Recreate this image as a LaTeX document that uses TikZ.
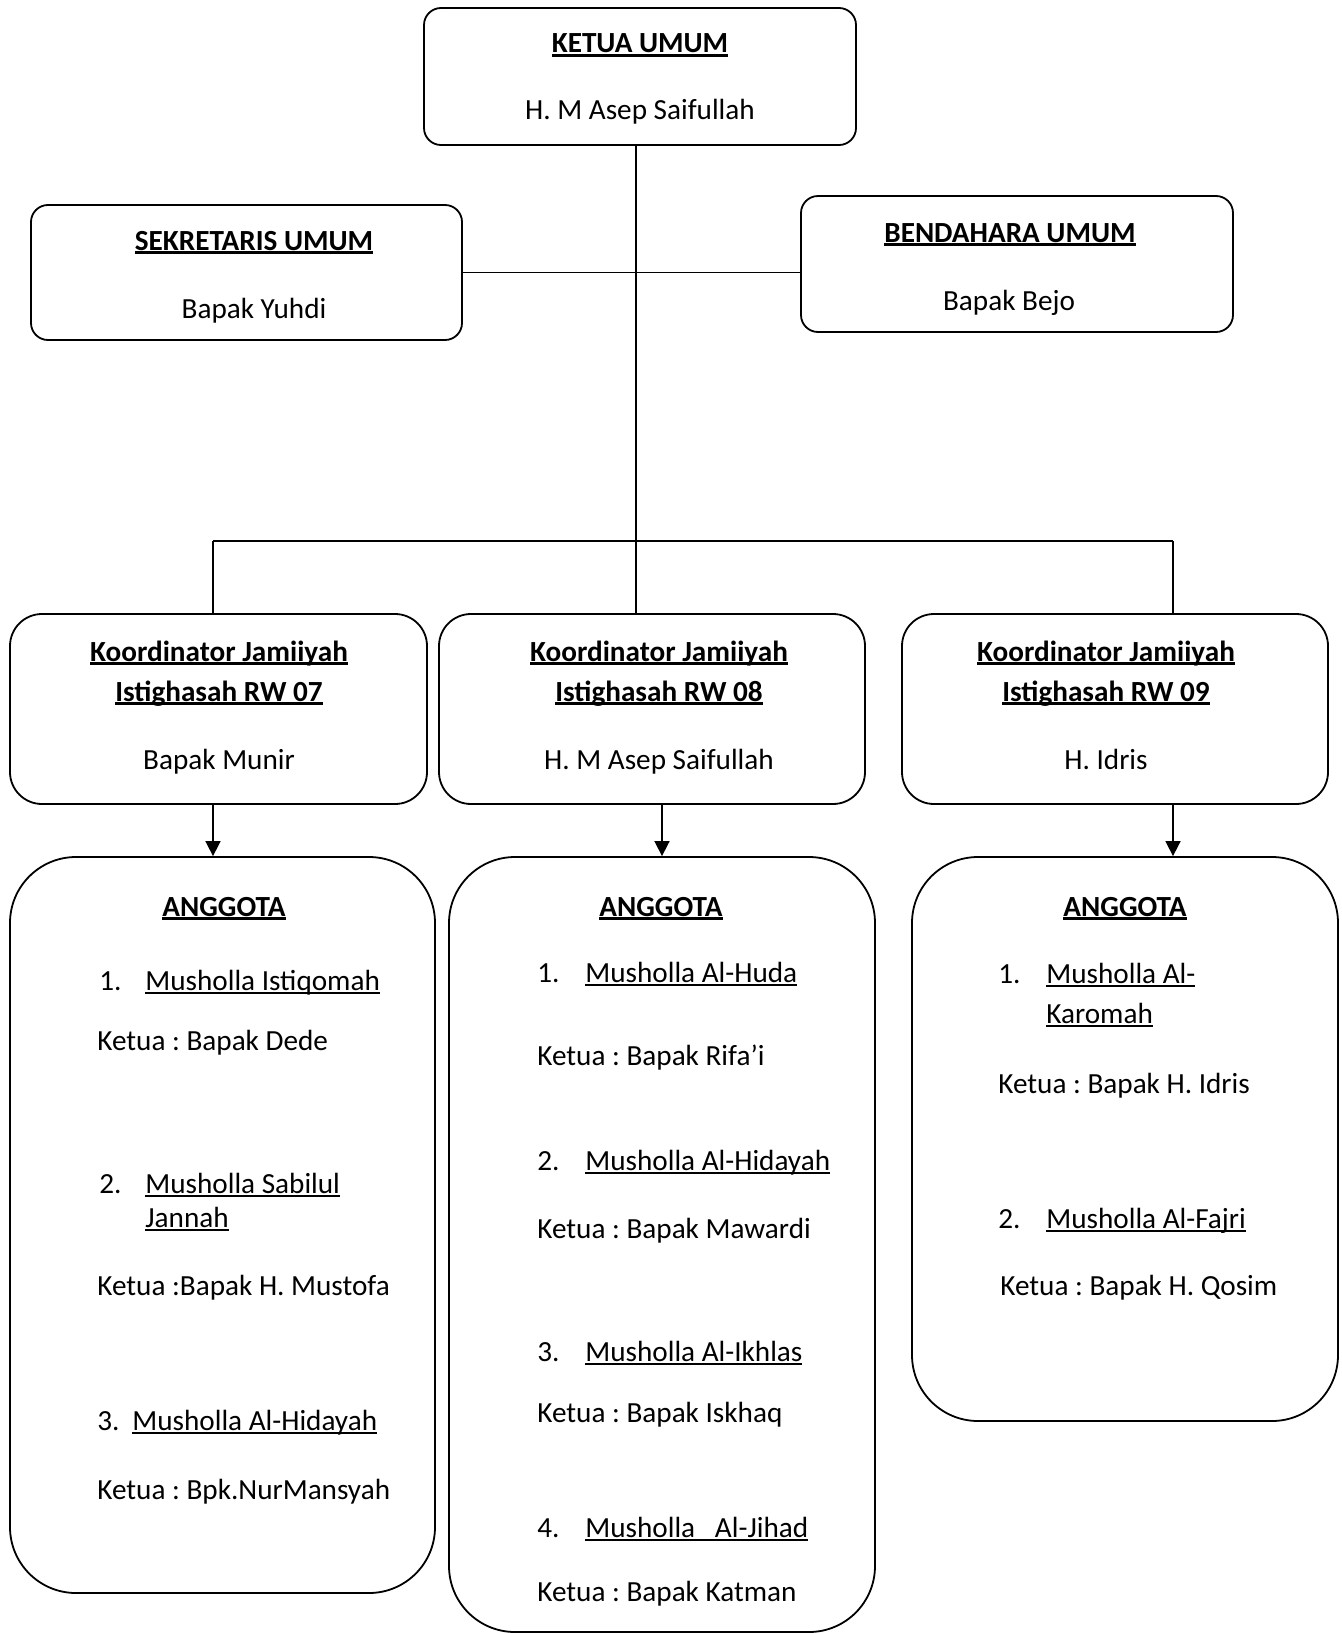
\documentclass[tikz,border=0pt]{standalone}
\usepackage{fontspec}
\setmainfont{Carlito}
\usetikzlibrary{arrows.meta}
\frenchspacing

\newsavebox\ulbox
\newcommand{\uln}[1]{\sbox\ulbox{#1}\rlap{\rule[-0.12em]{\wd\ulbox}{0.05em}}\usebox\ulbox}
\newcommand{\ulbf}[1]{\sbox\ulbox{\bfseries #1}\rlap{\rule[-0.13em]{\wd\ulbox}{0.08em}}\usebox\ulbox}

\tikzset{
  box/.style={draw, line width=0.9pt, inner sep=0pt},
  link/.style={line width=0.8pt},
  arr/.style={link, -{Triangle[length=7.5pt,width=7.5pt]}}
}

\begin{document}
\begin{tikzpicture}[x=0.5pt,y=-0.5pt,
    txt/.style={inner sep=0pt, yshift=-1pt, font=\fontsize{14.6pt}{17pt}\selectfont},
    item/.style={txt, anchor=base west},
    head/.style={txt, anchor=base}]

  \useasboundingbox (0,0) rectangle (1341,1633);

  % pengurus umum
  \node[box, rounded corners=8.5pt, minimum width=216pt, minimum height=68.5pt] (ketua) at (640,76.5) {};
  \node[box, rounded corners=8.5pt, minimum width=215.5pt, minimum height=67.5pt] (sekretaris) at (246.5,272.5) {};
  \node[box, rounded corners=8.5pt, minimum width=216pt, minimum height=68pt] (bendahara) at (1017,264) {};

  \node[head] (ketuaT) at (640,51) {\ulbf{KETUA UMUM}};
  \node[head] (ketuaN) at (640,117) {H. M Asep Saifullah};
  \node[head] (sekT) at (254,248) {\ulbf{SEKRETARIS UMUM}};
  \node[head] (sekN) at (254,316) {Bapak Yuhdi};
  \node[head] (bendT) at (1010,240) {\ulbf{BENDAHARA UMUM}};
  \node[head] (bendN) at (1009,308) {Bapak Bejo};

  % koordinator
  \node[box, rounded corners=16pt, minimum width=208.5pt, minimum height=95pt] (koord07) at (218.5,709) {};
  \node[box, rounded corners=16pt, minimum width=213pt, minimum height=95pt] (koord08) at (652,709) {};
  \node[box, rounded corners=16pt, minimum width=213pt, minimum height=95pt] (koord09) at (1115,709) {};

  \node[head] (k07a) at (219,659) {\ulbf{Koordinator Jamiiyah}};
  \node[head] (k07b) at (219,699) {\ulbf{Istighasah RW 07}};
  \node[head] (k07n) at (219,767) {Bapak Munir};
  \node[head] (k08a) at (659,659) {\ulbf{Koordinator Jamiiyah}};
  \node[head] (k08b) at (659,699) {\ulbf{Istighasah RW 08}};
  \node[head] (k08n) at (659,767) {H. M Asep Saifullah};
  \node[head] (k09a) at (1106,659) {\ulbf{Koordinator Jamiiyah}};
  \node[head] (k09b) at (1106,699) {\ulbf{Istighasah RW 09}};
  \node[head] (k09n) at (1106,767) {H. Idris};

  % anggota
  \node[box, rounded corners=33pt, minimum width=212.5pt, minimum height=368pt] (anggota07) at (222.5,1225) {};
  \node[box, rounded corners=33pt, minimum width=213pt, minimum height=387.5pt] (anggota08) at (662,1244.5) {};
  \node[box, rounded corners=33pt, minimum width=213pt, minimum height=282pt] (anggota09) at (1125,1139) {};

  \node[head] (a07) at (224,914) {\ulbf{ANGGOTA}};
  \node[item] (a07n1) at (99,988) {1.};
  \node[item] (a07m1) at (145,988) {\uln{Musholla Istiqomah}};
  \node[item] (a07k1) at (97,1048) {Ketua : Bapak Dede};
  \node[item] (a07n2) at (99,1191) {2.};
  \node[item] (a07m2) at (145,1191) {\uln{Musholla Sabilul}};
  \node[item] (a07m2b) at (145,1225) {\uln{Jannah}};
  \node[item] (a07k2) at (97,1293) {Ketua :Bapak H. Mustofa};
  \node[item] (a07n3) at (97,1428) {3.};
  \node[item] (a07m3) at (132,1428) {\uln{Musholla Al-Hidayah}};
  \node[item] (a07k3) at (97,1497) {Ketua : Bpk.NurMansyah};

  \node[head] (a08) at (661,914) {\ulbf{ANGGOTA}};
  \node[item] (a08n1) at (537,980) {1.};
  \node[item] (a08m1) at (585,980) {\uln{Musholla Al-Huda}};
  \node[item] (a08k1) at (537,1063) {Ketua : Bapak Rifa’i};
  \node[item] (a08n2) at (537,1168) {2.};
  \node[item] (a08m2) at (585,1168) {\uln{Musholla Al-Hidayah}};
  \node[item] (a08k2) at (537,1236) {Ketua : Bapak Mawardi};
  \node[item] (a08n3) at (537,1359) {3.};
  \node[item] (a08m3) at (585,1359) {\uln{Musholla Al-Ikhlas}};
  \node[item] (a08k3) at (537,1420) {Ketua : Bapak Iskhaq};
  \node[item] (a08n4) at (537,1535) {4.};
  \node[item] (a08m4) at (585,1535) {\uln{Musholla\ \ \ Al-Jihad}};
  \node[item] (a08k4) at (537,1599) {Ketua : Bapak Katman};

  \node[head] (a09) at (1125,914) {\ulbf{ANGGOTA}};
  \node[item] (a09n1) at (998,981) {1.};
  \node[item] (a09m1) at (1046,981) {\uln{Musholla Al-}};
  \node[item] (a09m1b) at (1046,1021) {\uln{Karomah}};
  \node[item] (a09k1) at (998,1091) {Ketua : Bapak H. Idris};
  \node[item] (a09n2) at (998,1226) {2.};
  \node[item] (a09m2) at (1046,1226) {\uln{Musholla Al-Fajri}};
  \node[item] (a09k2) at (1000,1293) {Ketua : Bapak H. Qosim};

  % garis penghubung
  \coordinate (bus) at (636,541);
  \coordinate (busW) at (213,541);
  \coordinate (busE) at (1173,541);
  \draw[link] (ketua.south -| bus) -- (bus);
  \draw[link] (sekretaris.east) -- (sekretaris.east -| bendahara.west);
  \draw[link] (busW) -- (busE);
  \draw[link] (busW) -- (busW |- koord07.north);
  \draw[link] (bus) -- (bus |- koord08.north);
  \draw[link] (busE) -- (busE |- koord09.north);
  \draw[arr] (busW |- koord07.south) -- (busW |- anggota07.north);
  \draw[arr] (anggota08.north |- koord08.south) -- (anggota08.north);
  \draw[arr] (busE |- koord09.south) -- (busE |- anggota09.north);
\end{tikzpicture}
\end{document}
